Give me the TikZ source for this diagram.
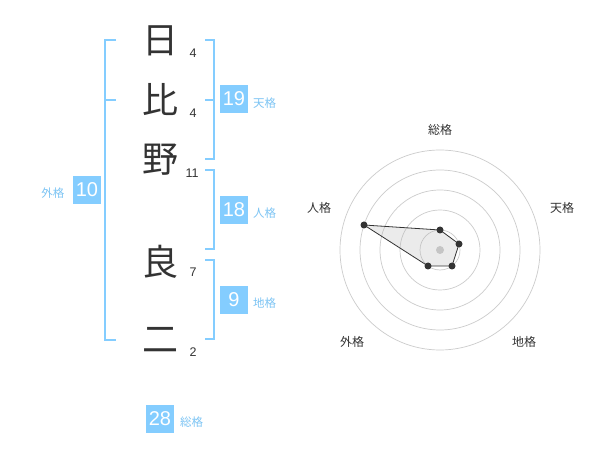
\documentclass[tikz,border=0pt]{standalone}
\usepackage{fontspec}
\setmainfont{Liberation Sans}
\newfontfamily\jp{Noto Sans CJK JP}
\definecolor{blu}{HTML}{84CDFF}
\definecolor{blutxt}{HTML}{7CC4F4}
\definecolor{ink}{HTML}{333333}
\definecolor{ring}{HTML}{CCCCCC}
\begin{document}
\begin{tikzpicture}[x=1pt,y=-1pt,
  kanji/.style={inner sep=0pt, text=ink, font=\jp\fontsize{36}{36}\selectfont},
  strokes/.style={inner sep=0pt, text=ink, font=\fontsize{12.5}{12.5}\selectfont},
  box/.style={inner sep=0pt, minimum width=28pt, minimum height=28pt, fill=blu, text=white, font=\fontsize{20}{20}\selectfont},
  lab/.style={inner sep=0pt, text=blutxt, font=\jp\fontsize{11.5}{11.5}\selectfont},
  rlab/.style={inner sep=0pt, text=ink, font=\jp\fontsize{12}{12}\selectfont},
  brk/.style={draw=blu, line width=2pt},
  ringline/.style={draw=ring, line width=0.7pt},
  dot/.style={circle, fill=ink, inner sep=0pt, minimum size=7pt}]
\fill[white] (0,0) rectangle (600,470);
\useasboundingbox (0,0) rectangle (600,470);

% name characters
\node[kanji] (k1) at (160,41) {日};
\node[kanji] (k2) at (160,100) {比};
\node[kanji] (k3) at (160,160) {野};
\node[kanji] (k4) at (160,262) {良};
\node[kanji] (k5) at (160,340) {二};

% stroke counts
\node[strokes] (s1) at (193,53) {4};
\node[strokes] (s2) at (193,113) {4};
\node[strokes] (s3) at (192,173) {11};
\node[strokes] (s4) at (193,272) {7};
\node[strokes] (s5) at (193,352) {2};

% brackets
\draw[brk] (116,40) -- (105,40) -- (105,340) -- (116,340);
\draw[brk] (105,100) -- (116,100);
\draw[brk] (205,40) -- (214,40) -- (214,159) -- (205,159);
\draw[brk] (205,100) -- (214,100);
\draw[brk] (205,170) -- (214,170) -- (214,249) -- (205,249);
\draw[brk] (205,260) -- (214,260) -- (214,339) -- (205,339);

% boxes and labels
\node[box] (b10) at (87,190) {10};
\node[lab] (l10) at (53,193) {外格};
\node[box] (b19) at (234,99) {19};
\node[lab, anchor=west] (l19) at (253,103) {天格};
\node[box] (b18) at (234,210) {18};
\node[lab, anchor=west] (l18) at (253,213) {人格};
\node[box] (b9) at (234,300) {9};
\node[lab, anchor=west] (l9) at (253,303) {地格};
\node[box] (b28) at (160,419) {28};
\node[lab, anchor=west] (l28) at (180,422) {総格};

% radar
\coordinate (c) at (440,250);
\foreach \r in {20,40,60,80,100} \draw[ringline] (c) circle[radius=\r pt];
\fill[ring] (c) circle[radius=4pt];
\coordinate (p1) at (440,230);
\coordinate (p2) at (459,244);
\coordinate (p3) at (452,266);
\coordinate (p4) at (428,266);
\coordinate (p5) at (364,225);
\filldraw[fill=black!30, fill opacity=0.25, draw=ink, line width=0.8pt] (p1) -- (p2) -- (p3) -- (p4) -- (p5) -- cycle;
\foreach \p in {p1,p2,p3,p4,p5} \node[dot] at (\p) {};
\node[rlab] (r1) at (440,130) {総格};
\node[rlab] (r2) at (562,208) {天格};
\node[rlab] (r3) at (524,342) {地格};
\node[rlab] (r4) at (352,342) {外格};
\node[rlab] (r5) at (319,208) {人格};
\end{tikzpicture}
\end{document}
